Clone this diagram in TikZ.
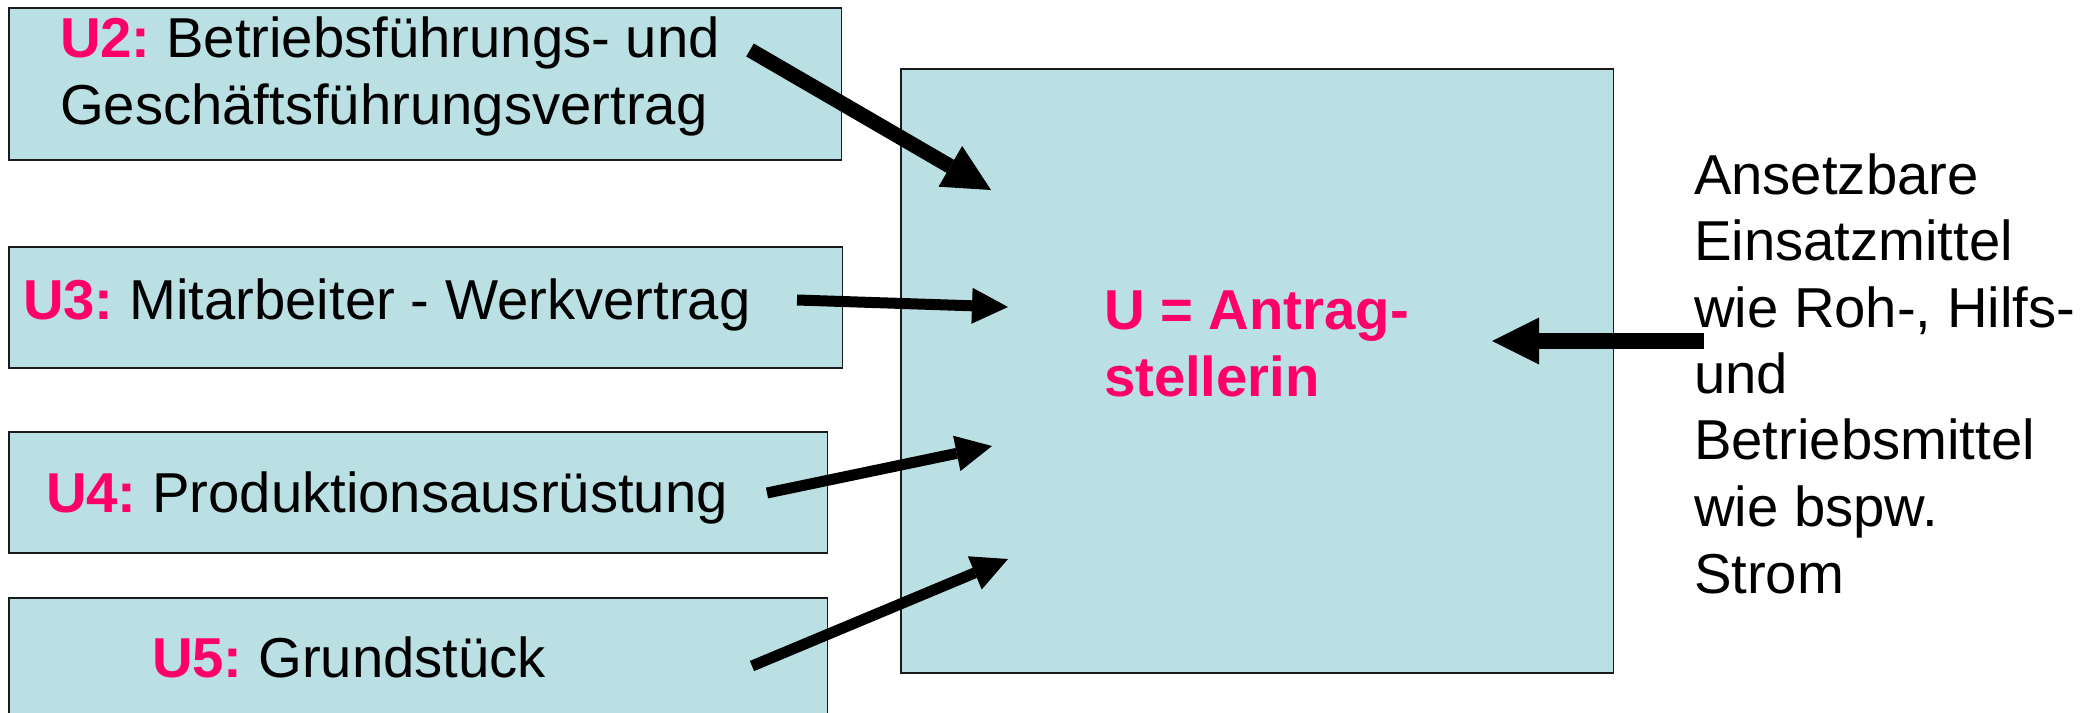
\documentclass[tikz,border=0pt]{standalone}
\usepackage{fontspec}
\setmainfont{Liberation Sans}
\usetikzlibrary{arrows.meta}
\definecolor{boxfill}{HTML}{BBE0E3}
\definecolor{accent}{HTML}{FF0066}
\definecolor{edge}{HTML}{1A1A1A}
\frenchspacing
\begin{document}
\begin{tikzpicture}[x=0.01cm,y=-0.01cm,
  box/.style={draw=edge,line width=0.5pt,fill=boxfill,anchor=north west,inner sep=0pt,outer sep=0pt},
  txt/.style={anchor=base west,inner sep=0pt,outer sep=0pt,font=\fontsize{16}{19}\selectfont},
  lbl/.style={text=accent,font=\fontsize{16}{19}\selectfont\bfseries},
  thinarrow/.style={line width=0.11cm,-{Triangle[length=0.36cm,width=0.36cm,line width=0pt]}},
  thickarrow/.style={line width=0.15cm,-{Triangle[length=0.47cm,width=0.47cm,line width=0pt]}}
]
\clip (0,0) rectangle (2092,713);
\fill[white] (0,0) rectangle (2092,713);
% boxes
\node[box,minimum width=8.32cm,minimum height=1.52cm] (u2) at (9,8) {};
\node[box,minimum width=8.33cm,minimum height=1.21cm] (u3) at (9,247) {};
\node[box,minimum width=8.18cm,minimum height=1.21cm] (u4) at (9,432) {};
\node[box,minimum width=8.18cm,minimum height=1.40cm] (u5) at (9,598) {};
\node[box,minimum width=7.12cm,minimum height=6.04cm] (u) at (901,69) {};
% texts
\node[txt] (t2a) at (60,58) {{\bfseries\color{accent}U2:} Betriebsführungs- und};
\node[txt] (t2b) at (60,125) {Geschäftsführungsvertrag};
\node[txt] (t3) at (23,320) {{\bfseries\color{accent}U3:} Mitarbeiter - Werkvertrag};
\node[txt] (t4) at (46,512) {{\bfseries\color{accent}U4:} Produktionsausrüstung};
\node[txt] (t5) at (152,677) {{\bfseries\color{accent}U5:} Grundstück};
\node[txt,lbl] (ua) at (1104,330) {U = Antrag-};
\node[txt,lbl] (ub) at (1104,397) {stellerin};
\node[txt] (r1) at (1694,195) {Ansetzbare};
\node[txt] (r2) at (1694,261) {Einsatzmittel};
\node[txt] (r3) at (1694,328) {wie Roh-, Hilfs-};
\node[txt] (r4) at (1694,394) {und};
\node[txt] (r5) at (1694,460) {Betriebsmittel};
\node[txt] (r6) at (1694,527) {wie bspw.};
\node[txt] (r7) at (1694,593) {Strom};
% arrow end points
\coordinate (s2) at (750,50);
\coordinate (e2) at (991,190);
\coordinate (s3) at (797,300);
\coordinate (e3) at (1008,307);
\coordinate (s4) at (767,493);
\coordinate (e4) at (992,446);
\coordinate (s5) at (752,666);
\coordinate (e5) at (1008,559);
\coordinate (sr) at (1704,341);
\coordinate (er) at (1492,341);
\draw[thickarrow] (s2) -- (e2);
\draw[thinarrow] (s3) -- (e3);
\draw[thinarrow] (s4) -- (e4);
\draw[thinarrow] (s5) -- (e5);
\draw[thickarrow] (sr) -- (er);
\end{tikzpicture}
\end{document}
